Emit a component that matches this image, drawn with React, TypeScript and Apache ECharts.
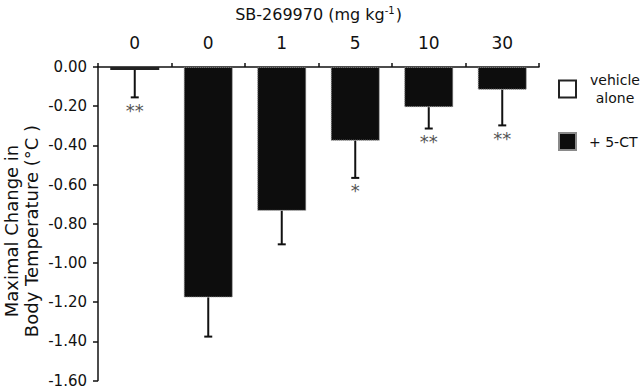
import React, { useEffect, useRef } from "react";
import * as echarts from "echarts";

const categories = ["0", "0", "1", "5", "10", "30"];
const vehicleValues: (number | null)[] = [-0.015, null, null, null, null, null];
const ctValues: (number | null)[] = [null, -1.176, -0.734, -0.376, -0.205, -0.116];
const errors = [0.14, 0.2, 0.171, 0.19, 0.109, 0.182];
const significance = ["**", "", "", "*", "**", "**"];
const yMin = -1.6;
const yMax = 0;
const yStep = 0.2;
const yTitleLines = ["Maximal Change in", "Body Temperature (°C )"];

const FONT = "DejaVu Sans, Liberation Sans, Arial, sans-serif";

export default function App() {
  const ref = useRef<HTMLDivElement>(null);
  useEffect(() => {
    if (!ref.current) return;
    const chart = echarts.init(ref.current, undefined, { renderer: "svg" });
    const means = categories.map((_, i) => (vehicleValues[i] ?? ctValues[i]) as number);
    const errData = categories.map((_, i) => [i, means[i], errors[i]]);
    chart.setOption({
      animation: false,
      textStyle: { fontFamily: FONT, color: "#111" },
      grid: { left: 98, right: 101, top: 64, bottom: 7 },
      graphic: [
        {
          type: "text",
          x: 11,
          y: 231,
          rotation: Math.PI / 2,
          style: { text: yTitleLines[0], fontSize: 18, fontFamily: FONT, fill: "#111", align: "center", verticalAlign: "middle" },
        },
        {
          type: "text",
          x: 31,
          y: 231,
          rotation: Math.PI / 2,
          style: { text: yTitleLines[1], fontSize: 18, fontFamily: FONT, fill: "#111", align: "center", verticalAlign: "middle" },
        },
      ],
      legend: {
        orient: "vertical",
        left: 558,
        top: 73,
        padding: 0,
        itemWidth: 17,
        itemHeight: 17,
        itemGap: 27,
        icon: "rect",
        selectedMode: false,
        data: ["vehicle alone", "+ 5-CT"],
        formatter: (name: string) =>
          name === "vehicle alone" ? "{a|vehicle}\n{a|alone}" : "{b|+ 5-CT}",
        textStyle: {
          fontFamily: FONT,
          color: "#111",
          fontSize: 14,
          rich: {
            a: { width: 50, align: "center", padding: [0, 0, 0, 9], fontSize: 14, lineHeight: 18, fontFamily: FONT, color: "#111" },
            b: { padding: [0, 0, 0, 8], fontSize: 14, fontFamily: FONT, color: "#111" },
          },
        },
      },
      xAxis: {
        type: "category",
        position: "top",
        data: categories,
        name: "SB-269970 (mg kg{s|-1})",
        nameLocation: "middle",
        nameGap: 44,
        nameTextStyle: {
          fontSize: 16,
          fontFamily: FONT,
          color: "#111",
          rich: { s: { fontSize: 10, verticalAlign: "top", padding: [0, 1, 8, 0], fontFamily: FONT, color: "#111" } },
        },
        axisLine: { show: true, lineStyle: { color: "#111", width: 1.5 } },
        axisTick: { show: true, inside: false, length: 4, lineStyle: { color: "#111", width: 1.5 } },
        axisLabel: { fontSize: 17, margin: 16, color: "#111", fontFamily: FONT },
        splitLine: { show: false },
      },
      yAxis: {
        type: "value",
        min: yMin,
        max: yMax,
        interval: yStep,
        axisLine: { show: true, lineStyle: { color: "#111", width: 1.5 } },
        axisTick: { show: true, inside: false, length: 5, lineStyle: { color: "#111", width: 1.5 } },
        axisLabel: {
          fontSize: 15,
          margin: 11,
          color: "#111",
          fontFamily: FONT,
          formatter: (v: number) => v.toFixed(2),
        },
        splitLine: { show: false },
      },
      series: [
        {
          type: "bar",
          name: "vehicle alone",
          data: vehicleValues,
          barWidth: 49,
          barGap: "-100%",
          itemStyle: { color: "#ffffff", borderColor: "#222", borderWidth: 1.5 },
        },
        {
          type: "bar",
          name: "+ 5-CT",
          data: ctValues,
          barWidth: 49,
          barGap: "-100%",
          itemStyle: { color: "#0d0d0d", borderColor: "#8a8a8a", borderWidth: 1, borderType: "dotted" },
        },
        {
          type: "custom",
          name: "error",
          data: errData,
          z: 5,
          renderItem: (params: any, api: any) => {
            const idx = api.value(0);
            const mean = api.value(1);
            const err = api.value(2);
            const top = api.coord([idx, mean]);
            const end = api.coord([idx, mean - err]);
            const x = top[0];
            const cap = 4;
            const children: any[] = [
              { type: "line", shape: { x1: x, y1: top[1], x2: x, y2: end[1] }, style: { stroke: "#111", lineWidth: 2 } },
              { type: "line", shape: { x1: x - cap, y1: end[1], x2: x + cap, y2: end[1] }, style: { stroke: "#111", lineWidth: 2 } },
            ];
            const sig = significance[params.dataIndex];
            if (sig) {
              children.push({
                type: "text",
                x: x,
                y: end[1] + 4,
                style: {
                  text: sig,
                  fontSize: 18,
                  fontFamily: FONT,
                  fill: "#555",
                  align: "center",
                  verticalAlign: "top",
                },
              });
            }
            return { type: "group", children };
          },
        },
      ],
    });
    return () => chart.dispose();
  }, []);
  return (
    <div
      ref={ref}
      style={{ position: "fixed", left: 0, top: 0, width: 640, height: 388, background: "#fff" }}
    />
  );
}
